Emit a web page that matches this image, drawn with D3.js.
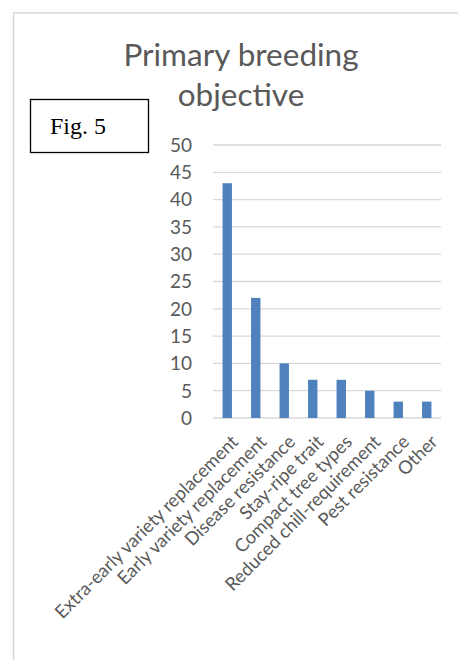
<!DOCTYPE html>
<html lang="en">
  <head>
    <meta charset="UTF-8" />
    <title>Primary breeding objective</title>
    <script src="https://d3js.org/d3.v7.min.js"></script>
    <style>
      body { margin: 0; background: #fff; }
      svg text { font-family: Lato, "Open Sans", sans-serif; fill: #595959; }
    </style>
  </head>
  <body>
    <svg></svg>
    <script>
      const categories = [
        "Extra-early variety replacement",
        "Early variety replacement",
        "Disease resistance",
        "Stay-ripe trait",
        "Compact tree types",
        "Reduced chill-requirement",
        "Pest resistance",
        "Other",
      ];
      const values = [43, 22, 10, 7, 7, 5, 3, 3];
      const yTicks = [0, 5, 10, 15, 20, 25, 30, 35, 40, 45, 50];

      let width = 458,
        height = 660;

      let svg = d3.select("svg").attr("width", width).attr("height", height);

      // chart frame (runs off the right and bottom edges)
      svg
        .append("rect")
        .attr("x", 13.5)
        .attr("y", 13)
        .attr("width", 500)
        .attr("height", 700)
        .attr("fill", "none")
        .attr("stroke", "#d9d9d9")
        .attr("stroke-width", 1.5);

      // title
      let title = svg
        .append("text")
        .attr("text-anchor", "middle")
        .style("font-size", "31.5px");
      title.append("tspan").attr("x", 241).attr("y", 66).text("Primary breeding");
      title.append("tspan").attr("x", 241).attr("y", 106).text("objective");

      let x = d3
        .scaleBand()
        .domain(categories)
        .range([213, 441])
        .paddingInner(0.67)
        .paddingOuter(0.335);

      let y = d3.scaleLinear().domain([0, 50]).range([418, 145]);

      // gridlines
      svg
        .append("g")
        .selectAll("line")
        .data(yTicks)
        .enter()
        .append("line")
        .attr("x1", 213)
        .attr("x2", 441)
        .attr("y1", (d) => y(d))
        .attr("y2", (d) => y(d))
        .attr("stroke", "#d9d9d9")
        .attr("stroke-width", 1.3);

      // y labels
      svg
        .append("g")
        .selectAll("text")
        .data(yTicks)
        .enter()
        .append("text")
        .attr("x", 192)
        .attr("y", (d) => y(d))
        .attr("dy", "0.36em")
        .attr("text-anchor", "end")
        .style("font-size", "19px")
        .text((d) => d);

      // bars
      svg
        .append("g")
        .selectAll("rect")
        .data(values)
        .enter()
        .append("rect")
        .attr("x", (d, i) => x(categories[i]))
        .attr("width", x.bandwidth())
        .attr("y", (d) => y(d))
        .attr("height", (d) => y(0) - y(d))
        .attr("fill", "#4f81bd");

      // x labels, rotated
      svg
        .append("g")
        .selectAll("text")
        .data(categories)
        .enter()
        .append("text")
        .attr("text-anchor", "end")
        .attr(
          "transform",
          (d) => "translate(" + (x(d) + x.bandwidth() / 2 + 12) + ",443) rotate(-45)"
        )
        .style("font-size", "18.3px")
        .text((d) => d);

      // figure label box
      svg
        .append("rect")
        .attr("x", 30.5)
        .attr("y", 99.5)
        .attr("width", 118)
        .attr("height", 53)
        .attr("fill", "#fff")
        .attr("stroke", "#000")
        .attr("stroke-width", 1.3);
      svg
        .append("text")
        .attr("x", 50)
        .attr("y", 134)
        .style("font-family", "'Liberation Serif', serif")
        .style("fill", "#000")
        .style("font-size", "24px")
        .text("Fig. 5");
    </script>
  </body>
</html>
